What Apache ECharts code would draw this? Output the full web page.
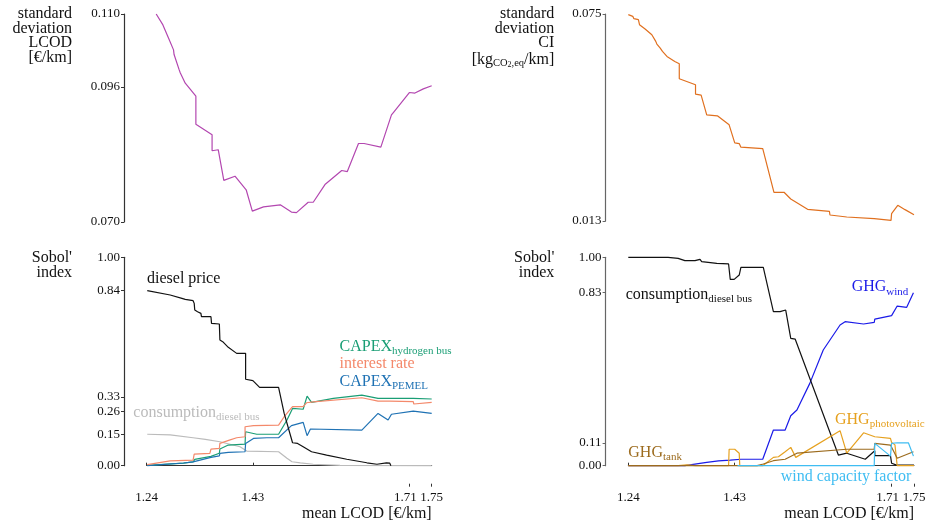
<!DOCTYPE html>
<html><head><meta charset="utf-8">
<script src="https://cdn.jsdelivr.net/npm/echarts@6/dist/echarts.min.js"></script>
<style>html,body{margin:0;padding:0;background:#fff}#c{width:930px;height:524px}</style>
</head><body><div id="c"></div>
<script>
// ---------- tick labels ----------
const xTicks = [1.24, 1.43];
const xTicks171 = [1.71];
const xTicks175 = [1.75];
const yTicksSdLcod = [0.070, 0.096, 0.110];
const yTicksSdCi = [0.013, 0.075];
const yTicksSobolLcod = [0, 0.15, 0.26, 0.33, 0.84, 1.00];
const yTicksSobolCi = [0, 0.11, 0.83, 1.00];

// ---------- top-left: standard deviation LCOD ----------
const sdLcod = [[1.257,0.1100],[1.269,0.1079],[1.279,0.1054],[1.288,0.1031],[1.289,0.1022],[1.298,0.0993],[1.300,0.0987],[1.309,0.0967],[1.328,0.0942],[1.328,0.0888],[1.357,0.0868],[1.357,0.0837],[1.368,0.0839],[1.378,0.0780],[1.398,0.0788],[1.418,0.0762],[1.429,0.0721],[1.449,0.0729],[1.479,0.0733],[1.499,0.0719],[1.508,0.0718],[1.529,0.0738],[1.538,0.0738],[1.559,0.0772],[1.589,0.0799],[1.599,0.0797],[1.619,0.0851],[1.629,0.0851],[1.659,0.0844],[1.678,0.0906],[1.681,0.0910],[1.710,0.0949],[1.720,0.0948],[1.735,0.0956],[1.750,0.0962]];

// ---------- top-right: standard deviation CI ----------
const sdCi = [[1.240,0.0748],[1.248,0.0743],[1.250,0.0736],[1.258,0.0733],[1.260,0.0718],[1.270,0.0705],[1.282,0.0688],[1.289,0.0668],[1.291,0.0660],[1.297,0.0648],[1.301,0.0638],[1.309,0.0623],[1.323,0.0608],[1.331,0.0601],[1.331,0.0556],[1.360,0.0538],[1.360,0.0510],[1.370,0.0507],[1.380,0.0448],[1.399,0.0445],[1.420,0.0418],[1.430,0.0364],[1.438,0.0362],[1.441,0.0351],[1.480,0.0347],[1.500,0.0216],[1.518,0.0216],[1.530,0.0196],[1.560,0.0165],[1.599,0.0159],[1.600,0.0148],[1.630,0.0142],[1.679,0.0137],[1.680,0.0132],[1.709,0.0132],[1.710,0.0152],[1.721,0.0177],[1.734,0.0164],[1.750,0.0149]];

// ---------- bottom-left: Sobol' indices of LCOD ----------
const dieselPrice = [[1.241,0.840],[1.282,0.819],[1.303,0.803],[1.309,0.798],[1.323,0.792],[1.325,0.779],[1.326,0.747],[1.331,0.739],[1.332,0.731],[1.337,0.731],[1.338,0.715],[1.355,0.715],[1.356,0.683],[1.370,0.680],[1.371,0.603],[1.376,0.595],[1.386,0.568],[1.401,0.539],[1.417,0.539],[1.417,0.415],[1.430,0.408],[1.442,0.376],[1.476,0.376],[1.486,0.251],[1.501,0.110],[1.510,0.107],[1.520,0.091],[1.535,0.067],[1.562,0.051],[1.598,0.031],[1.634,0.014],[1.652,0.007],[1.669,0.014],[1.675,0.012],[1.677,0.0]];
const consumptionLcod = [[1.241,0.151],[1.282,0.148],[1.323,0.134],[1.345,0.126],[1.371,0.115],[1.374,0.107],[1.407,0.091],[1.419,0.070],[1.476,0.067],[1.491,0.036],[1.500,0.019],[1.515,0.014],[1.538,0.007],[1.586,0.002],[1.750,0.0]];
const interestRate = [[1.241,0.005],[1.282,0.023],[1.323,0.027],[1.325,0.056],[1.353,0.059],[1.355,0.080],[1.370,0.083],[1.371,0.107],[1.388,0.123],[1.401,0.134],[1.416,0.139],[1.416,0.187],[1.431,0.192],[1.476,0.195],[1.486,0.235],[1.501,0.283],[1.520,0.283],[1.526,0.302],[1.538,0.306],[1.625,0.326],[1.654,0.310],[1.675,0.310],[1.678,0.304],[1.717,0.307],[1.718,0.296],[1.750,0.304]];
const capexH2Bus = [[1.241,0.002],[1.306,0.012],[1.323,0.018],[1.326,0.030],[1.355,0.045],[1.370,0.060],[1.371,0.080],[1.386,0.099],[1.416,0.104],[1.417,0.163],[1.437,0.151],[1.476,0.151],[1.491,0.219],[1.501,0.275],[1.520,0.271],[1.527,0.334],[1.535,0.304],[1.574,0.323],[1.625,0.339],[1.654,0.323],[1.675,0.323],[1.678,0.326],[1.717,0.323],[1.718,0.328],[1.750,0.320]];
const capexPemel = [[1.241,0.0],[1.306,0.013],[1.323,0.018],[1.326,0.027],[1.355,0.040],[1.370,0.047],[1.371,0.059],[1.386,0.064],[1.416,0.067],[1.417,0.107],[1.431,0.131],[1.455,0.134],[1.476,0.134],[1.499,0.192],[1.520,0.208],[1.527,0.144],[1.533,0.176],[1.625,0.171],[1.654,0.251],[1.672,0.219],[1.678,0.247],[1.717,0.262],[1.750,0.251]];

// ---------- bottom-right: Sobol' indices of CI ----------
const consumptionCi = [[1.240,1.0],[1.311,1.0],[1.329,0.995],[1.330,0.998],[1.331,0.992],[1.341,0.984],[1.359,0.984],[1.361,0.990],[1.368,0.990],[1.371,0.979],[1.398,0.971],[1.419,0.968],[1.422,0.894],[1.429,0.894],[1.438,0.915],[1.441,0.952],[1.481,0.952],[1.499,0.739],[1.511,0.739],[1.521,0.747],[1.530,0.611],[1.538,0.607],[1.615,0.051],[1.630,0.060],[1.663,0.031],[1.680,0.072],[1.680,0.048],[1.708,0.048],[1.710,0.012],[1.719,0.003],[1.750,0.003]];
const ghgWind = [[1.240,0.0],[1.341,0.0],[1.380,0.016],[1.401,0.023],[1.422,0.027],[1.441,0.031],[1.480,0.031],[1.499,0.171],[1.520,0.171],[1.530,0.240],[1.541,0.267],[1.564,0.395],[1.588,0.555],[1.618,0.675],[1.627,0.691],[1.660,0.680],[1.679,0.688],[1.680,0.680],[1.680,0.703],[1.682,0.705],[1.710,0.720],[1.720,0.766],[1.737,0.760],[1.749,0.830]];
const ghgPv = [[1.240,0.0],[1.329,0.0],[1.330,0.006],[1.345,0.004],[1.360,0.0],[1.419,0.0],[1.420,0.079],[1.430,0.079],[1.438,0.060],[1.439,0.0],[1.480,0.0],[1.499,0.040],[1.508,0.043],[1.520,0.067],[1.530,0.088],[1.539,0.040],[1.618,0.168],[1.630,0.060],[1.660,0.158],[1.680,0.139],[1.708,0.131],[1.710,0.112],[1.716,0.100],[1.720,0.0],[1.750,0.0]];
const ghgTank = [[1.240,0.0],[1.470,0.0],[1.481,0.008],[1.499,0.024],[1.520,0.031],[1.541,0.060],[1.630,0.079],[1.679,0.080],[1.680,0.107],[1.708,0.099],[1.720,0.036],[1.749,0.067]];
const windCf = [[1.435,0.0],[1.679,0.0],[1.680,0.107],[1.708,0.046],[1.710,0.107],[1.720,0.110],[1.740,0.110],[1.749,0.046]];

const FF = "'Liberation Serif','Times New Roman',serif";
const TXT = '#111111';

function xAx(gi, show, ticks, lineShow, padRight) {
  return {
    type: 'value', gridIndex: gi, min: 1.24, max: 1.75, show: show, position: 'bottom', offset: 21,
    splitLine: { show: false },
    axisLine: { show: lineShow, lineStyle: { color: '#333', width: 1 } },
    axisTick: { show: true, inside: true, length: 3, customValues: ticks, lineStyle: { color: '#333' } },
    axisLabel: { customValues: ticks, showMinLabel: true, showMaxLabel: true, hideOverlap: false,
      padding: [0, padRight || 0, 0, 0],
      formatter: v => v.toFixed(2), margin: 4, fontSize: 13, fontFamily: FF, color: TXT }
  };
}
function yAx(gi, min, max, ticks, dec, col) {
  return {
    type: 'value', gridIndex: gi, min: min, max: max, offset: 22.7,
    splitLine: { show: false },
    axisLine: { show: true, lineStyle: { color: col, width: 1.2 } },
    axisTick: { show: true, length: 3, customValues: ticks, lineStyle: { color: col } },
    axisLabel: { customValues: ticks, showMinLabel: true, showMaxLabel: true,
      formatter: v => v.toFixed(dec), margin: 4, fontSize: 13, fontFamily: FF, color: TXT }
  };
}
function line(name, data, color, xi, z) {
  return { name, type: 'line', data, xAxisIndex: xi, yAxisIndex: xi, showSymbol: false, symbol: 'none',
    lineStyle: { color, width: 1.2 }, itemStyle: { color }, z: z || 2, animation: false, silent: true, clip: false };
}
const RICH = {
  m: { fontSize: 16, fontFamily: FF, lineHeight: 18, verticalAlign: 'middle' },
  s: { fontSize: 11, fontFamily: FF, height: 8, lineHeight: 10, verticalAlign: 'bottom' }
};
function lab(x, y, text, fill, align) {
  return { type: 'text', x, y, silent: true, z: 100,
    style: { text, fill, align: align || 'left', verticalAlign: 'middle', fontSize: 16, fontFamily: FF, rich: RICH } };
}
function ttl(x, y, text, lh) {
  return { type: 'text', x, y, silent: true, z: 100,
    style: { text, fill: TXT, align: 'right', verticalAlign: 'top', fontSize: 16, fontFamily: FF, lineHeight: lh } };
}

const chart = echarts.init(document.getElementById('c'), null, { renderer: 'canvas' });
chart.setOption({
  animation: false,
  backgroundColor: '#ffffff',
  grid: [
    { left: 146.7, top: 14, width: 285, height: 208 },
    { left: 628.3, top: 14, width: 285.7, height: 207 },
    { left: 146.7, top: 257.3, width: 285, height: 208.4 },
    { left: 628.3, top: 257.3, width: 285.7, height: 208.4 }
  ],
  xAxis: [
    xAx(0, false, xTicks, true), xAx(1, false, xTicks, true),
    xAx(2, true, xTicks, true), xAx(3, true, xTicks, true),
    xAx(2, true, xTicks171, false, 8), xAx(3, true, xTicks171, false, 8),
    xAx(2, true, xTicks175, false, 0), xAx(3, true, xTicks175, false, 0)
  ],
  yAxis: [
    yAx(0, 0.070, 0.110, yTicksSdLcod, 3, '#333'),
    yAx(1, 0.013, 0.075, yTicksSdCi, 3, '#666'),
    yAx(2, 0, 1, yTicksSobolLcod, 2, '#333'),
    yAx(3, 0, 1, yTicksSobolCi, 2, '#666')
  ],
  series: [
    line('sd LCOD', sdLcod, '#b347b0', 0),
    line('sd CI', sdCi, '#e0701f', 1),
    line('consumption diesel bus (LCOD)', consumptionLcod, '#bbbbbb', 2, 2),
    line('CAPEX hydrogen bus', capexH2Bus, '#1a9e75', 2, 3),
    line('CAPEX PEMEL', capexPemel, '#1f72b4', 2, 4),
    line('interest rate', interestRate, '#f4896b', 2, 5),
    line('diesel price', dieselPrice, '#111111', 2, 6),
    line('GHG wind', ghgWind, '#1a1ae8', 3, 2),
    line('consumption diesel bus (CI)', consumptionCi, '#111111', 3, 3),
    line('GHG photovoltaic', ghgPv, '#e6a11f', 3, 4),
    line('GHG tank', ghgTank, '#9c6b1e', 3, 5),
    line('wind capacity factor', windCf, '#3fbdf2', 3, 6)
  ],
  graphic: [
    ttl(72, 6.75, 'standard\ndeviation\nLCOD\n[€/km]', 14.5),
    { type: 'text', x: 554.3, y: 6.75, silent: true, z: 100,
      style: { text: '{t|standard}\n{t|deviation}\n{t|CI}\n{t|[kg}{a|CO}{b|2}{a|,eq}{t|/km]}', fill: TXT, align: 'right', verticalAlign: 'top', fontSize: 16, fontFamily: FF,
        rich: {
          t: { fontSize: 16, fontFamily: FF, lineHeight: 14.5, verticalAlign: 'middle' },
          a: { fontSize: 10.5, fontFamily: FF, height: 12, lineHeight: 19, verticalAlign: 'bottom' },
          b: { fontSize: 8, fontFamily: FF, height: 8, lineHeight: 19, verticalAlign: 'bottom' }
        } } },
    ttl(72, 249.6, "Sobol'\nindex", 15.4),
    ttl(554.3, 249.6, "Sobol'\nindex", 15.4),
    lab(431.7, 513.3, '{m|mean LCOD [€/km]}', TXT, 'right'),
    lab(914, 513.3, '{m|mean LCOD [€/km]}', TXT, 'right'),
    lab(147, 278.3, '{m|diesel price}', '#111111'),
    lab(339.5, 346.5, '{m|CAPEX}{s|hydrogen bus}', '#1a9e75'),
    lab(339.5, 364, '{m|interest rate}', '#f4896b'),
    lab(339.5, 381.5, '{m|CAPEX}{s|PEMEL}', '#1f72b4'),
    lab(133.3, 412.3, '{m|consumption}{s|diesel bus}', '#bbbbbb'),
    lab(625.7, 294.3, '{m|consumption}{s|diesel bus}', '#111111'),
    lab(908.3, 286.7, '{m|GHG}{s|wind}', '#1a1ae8', 'right'),
    lab(835, 419.3, '{m|GHG}{s|photovoltaic}', '#e6a11f'),
    lab(628.3, 452.3, '{m|GHG}{s|tank}', '#9c6b1e'),
    lab(780.7, 476.7, '{m|wind capacity factor}', '#3fbdf2')
  ]
});
</script>
</body></html>
